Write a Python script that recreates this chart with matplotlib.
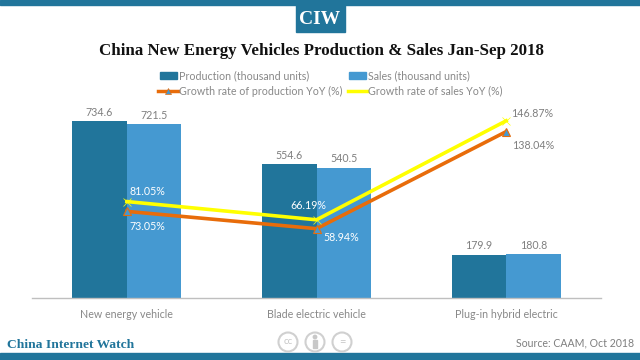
import numpy as np
import matplotlib
matplotlib.use('Agg')
import matplotlib.pyplot as plt
from matplotlib.patches import Rectangle, Circle

categories = ['New energy vehicle', 'Blade electric vehicle', 'Plug-in hybrid electric']
production = [734.6, 554.6, 179.9]
sales = [721.5, 540.5, 180.8]
growth_production = [73.05, 58.94, 138.04]
growth_sales = [81.05, 66.19, 146.87]

W, H = 640, 360
BLUE_DARK = '#21759b'
BLUE = '#4599d1'
ORANGE = '#e86c0a'
YELLOW = '#ffff00'
GREY = '#7f7f7f'
FS = 7.7
plt.rcParams['font.family'] = ['Lato', 'DejaVu Sans']

fig = plt.figure(figsize=(6.4, 3.6), dpi=100, facecolor='white')

# overlay in pixel coordinates for the page furniture
page = fig.add_axes([0, 0, 1, 1], zorder=0)
page.set_xlim(0, W)
page.set_ylim(H, 0)
page.axis('off')
page.add_patch(Rectangle((0, 0), W, 5, color=BLUE_DARK))
page.add_patch(Rectangle((0, 353), W, 7, color=BLUE_DARK))
page.add_patch(Rectangle((296, 5), 49, 27, color=BLUE_DARK))
page.text(320, 19, 'CIW', color='white', fontsize=14, fontweight='bold', family='Liberation Serif',
          ha='center', va='center')
page.text(321, 51, 'China New Energy Vehicles Production & Sales Jan-Sep 2018', color='#111111',
          fontsize=12.2, fontweight='bold', family='Liberation Serif', ha='center', va='center')
page.text(7, 345, 'China Internet Watch', color=BLUE_DARK, fontsize=9.7, fontweight='bold',
          family='Liberation Serif', ha='left', va='center')
page.text(634, 343, 'Source: CAAM, Oct 2018', color=GREY, fontsize=7.6, ha='right', va='center')

# cc icons
for cx in (288, 315, 342):
    page.add_patch(Circle((cx, 342), 9.5, fill=False, ec='#d0d0d0', lw=1.5))
page.text(288, 342, 'cc', color='#c8c8c8', fontsize=7, ha='center', va='center')
page.add_patch(Circle((315, 337), 1.7, color='#c8c8c8'))
page.add_patch(Rectangle((313, 340), 4, 8, color='#c8c8c8'))
page.text(342, 342, '=', color='#c8c8c8', fontsize=8, ha='center', va='center')

# legend, placed by hand like the original
legend_color = '#888888'
page.add_patch(Rectangle((160, 72), 17, 7, color=BLUE_DARK))
page.text(179, 75.5, 'Production (thousand units)', color=legend_color, fontsize=FS, va='center')
page.add_patch(Rectangle((349, 72), 17, 7, color=BLUE))
page.text(368, 75.5, 'Sales (thousand units)', color=legend_color, fontsize=FS, va='center')
page.plot([158, 178], [91, 91], color=ORANGE, lw=2.5)
page.plot([168], [91], marker='^', ms=4, color=BLUE, mec=ORANGE, mew=0.5)
page.text(179, 91, 'Growth rate of production YoY (%)', color=legend_color, fontsize=FS, va='center')
page.plot([348, 367], [91, 91], color=YELLOW, lw=2.5)
page.text(368, 91, 'Growth rate of sales YoY (%)', color=legend_color, fontsize=FS, va='center')

# plot area: baseline at y=298, x from 32 to 601
left, right, top, bottom = 32, 601, 100, 298
ax = fig.add_axes([left / W, 1 - bottom / H, (right - left) / W, (bottom - top) / H], zorder=1)
ax.patch.set_alpha(0)
x = np.arange(len(categories))
bw = 0.288
ax.bar(x - bw / 2, production, bw, color=BLUE_DARK, zorder=2)
ax.bar(x + bw / 2, sales, bw, color=BLUE, zorder=2)
ax.set_xlim(-0.5, 2.5)
ax.set_ylim(0, 198 / 177 * 734.6)
ax.set_yticks([])
ax.set_xticks(x)
ax.set_xticklabels(categories, color=legend_color, fontsize=FS)
ax.tick_params(axis='x', length=0, pad=8)
for s in ('top', 'left', 'right'):
    ax.spines[s].set_visible(False)
ax.spines['bottom'].set_color('#bfbfbf')
ax.spines['bottom'].set_linewidth(1)

for i in range(3):
    ax.text(x[i] - bw / 2, production[i] + 14, f'{production[i]}', ha='center', va='bottom', color=GREY, fontsize=FS)
    ax.text(x[i] + bw / 2, sales[i] + 14, f'{sales[i]}', ha='center', va='bottom', color=GREY, fontsize=FS)

# growth rates on a hidden second axis, 1.227 px per percent, zero 3 px below the baseline
ax2 = ax.twinx()
ax2.patch.set_alpha(0)
ax2.set_ylim(3 / 1.227, (301 - top) / 1.227)
ax2.axis('off')
ax2.plot(x, growth_production, color=ORANGE, lw=2.6, marker='^', ms=6, mfc=BLUE, mec=ORANGE, mew=0.8,
         solid_joinstyle='miter', zorder=3)
ax2.plot(x, growth_sales, color=YELLOW, lw=2.6, marker='x', ms=6, mec=YELLOW, mew=0.5,
         solid_joinstyle='miter', zorder=4)

offsets_prod = [(3, -15), (7, -9), (6, -14)]
offsets_sales = [(3, 10), (-26, 14), (5, 7)]
colors_prod = ['white', 'white', GREY]
colors_sales = ['white', 'white', GREY]
for i in range(3):
    ax2.annotate(f'{growth_production[i]:.2f}%', (x[i], growth_production[i]), xytext=offsets_prod[i],
                 textcoords='offset pixels', color=colors_prod[i], fontsize=FS, va='center')
    ax2.annotate(f'{growth_sales[i]:.2f}%', (x[i], growth_sales[i]), xytext=offsets_sales[i],
                 textcoords='offset pixels', color=colors_sales[i], fontsize=FS, va='center')

fig.savefig('out.png', dpi=100)
